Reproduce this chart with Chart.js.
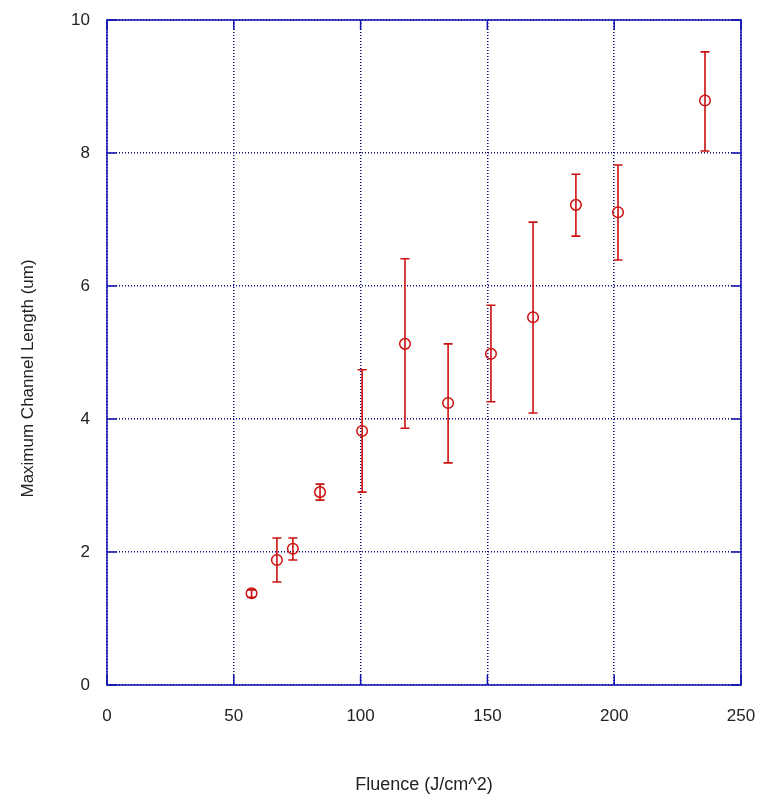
<!DOCTYPE html>
<html>
<head>
<meta charset="utf-8">
<script src="https://cdn.jsdelivr.net/npm/chart.js@4/dist/chart.umd.min.js"></script>
<style>
html,body{margin:0;padding:0;background:#fff}
canvas{display:block}
</style>
</head>
<body>
<canvas id="ch" width="769" height="807"></canvas>
<script>
// data
const fluence=[57,67,73.3,84,100.6,117.5,134.5,151.4,168,184.9,201.5,235.8];
const chanLen=[1.38,1.88,2.05,2.90,3.82,5.13,4.24,4.98,5.53,7.22,7.11,8.79];
const errHigh=[1.43,2.21,2.21,3.02,4.74,6.41,5.13,5.71,6.96,7.68,7.82,9.52];
const errLow=[1.32,1.55,1.88,2.78,2.90,3.86,3.34,4.26,4.09,6.75,6.39,8.03];
const xTicks=[0,50,100,150,200,250];
const yTicks=[0,2,4,6,8,10];

const RED="#cc1111",FRAME="#1010b0",GRID="#0a0a80",TXT="#222";
Chart.defaults.font.family="'Liberation Sans', Arial, sans-serif";
Chart.defaults.color=TXT;

// error bars, frame and inward tick marks
const extras={
  id:"extras",
  beforeDatasetsDraw(c){
    const x=c.scales.x,y=c.scales.y,ctx=c.ctx;
    ctx.save();ctx.strokeStyle=RED;ctx.lineWidth=1.6;
    fluence.forEach((f,i)=>{
      const px=x.getPixelForValue(f),t=y.getPixelForValue(errHigh[i]),b=y.getPixelForValue(errLow[i]);
      ctx.beginPath();
      ctx.moveTo(px,t);ctx.lineTo(px,b);
      ctx.moveTo(px-4.5,t);ctx.lineTo(px+4.5,t);
      ctx.moveTo(px-4.5,b);ctx.lineTo(px+4.5,b);
      ctx.stroke();
    });
    ctx.restore();
  },
  afterDraw(c){
    const a=c.chartArea,ctx=c.ctx,x=c.scales.x,y=c.scales.y;
    ctx.save();ctx.strokeStyle=FRAME;ctx.lineWidth=1.5;
    ctx.strokeRect(a.left,a.top,a.right-a.left,a.bottom-a.top);
    ctx.beginPath();
    xTicks.forEach(v=>{const p=x.getPixelForValue(v);ctx.moveTo(p,a.bottom);ctx.lineTo(p,a.bottom-10);ctx.moveTo(p,a.top);ctx.lineTo(p,a.top+10);});
    yTicks.forEach(v=>{const p=y.getPixelForValue(v);ctx.moveTo(a.left,p);ctx.lineTo(a.left+10,p);ctx.moveTo(a.right,p);ctx.lineTo(a.right-10,p);});
    ctx.stroke();
    ctx.restore();
  }
};

new Chart(document.getElementById("ch"),{
  type:"scatter",
  data:{datasets:[{
    label:"Maximum Channel Length",
    data:fluence.map((f,i)=>({x:f,y:chanLen[i]})),
    pointStyle:"circle",pointRadius:5.3,pointBorderWidth:1.5,
    borderColor:RED,backgroundColor:"rgba(0,0,0,0)"
  }]},
  options:{
    responsive:false,animation:false,
    layout:{padding:{left:0,right:28,top:20,bottom:0}},
    plugins:{legend:{display:false},tooltip:{enabled:false}},
    scales:{
      x:{type:"linear",min:0,max:250,
        afterBuildTicks:s=>{s.ticks=xTicks.map(v=>({value:v}));},
        afterFit:s=>{s.height=122;s.paddingLeft=0;s.paddingRight=0;},
        grid:{color:GRID,lineWidth:1.5,drawTicks:false},
        border:{display:false,dash:[1,2]},
        ticks:{padding:21,font:{size:17},color:TXT},
        title:{display:true,text:"Fluence (J/cm^2)",font:{size:18},color:TXT,padding:{top:0,bottom:11}}
      },
      y:{type:"linear",min:0,max:10,
        afterBuildTicks:s=>{s.ticks=yTicks.map(v=>({value:v}));},
        afterFit:s=>{s.width=107;s.paddingTop=0;s.paddingBottom=0;},
        grid:{color:GRID,lineWidth:1.5,drawTicks:false},
        border:{display:false,dash:[1,2]},
        ticks:{padding:17,font:{size:17},color:TXT},
        title:{display:true,text:"Maximum Channel Length (um)           ",font:{size:17},color:TXT,padding:{top:18,bottom:0}}
      }
    }
  },
  plugins:[extras]
});
</script>
</body>
</html>
